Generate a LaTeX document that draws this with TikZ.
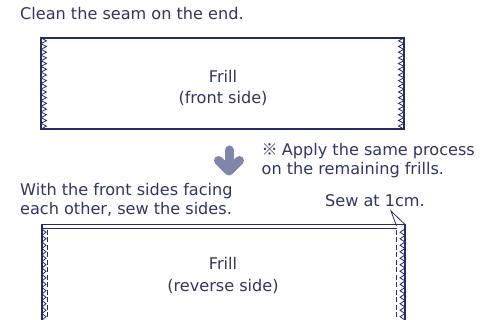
\documentclass[tikz,border=0pt]{standalone}
\usepackage{fontspec}
\setmainfont{DejaVu Sans}
\newfontfamily\cjk{Noto Sans CJK JP}
\definecolor{navy}{RGB}{36,44,104}
\definecolor{txtc}{RGB}{48,54,100}
\definecolor{arrc}{RGB}{128,134,170}
\begin{document}
\begin{tikzpicture}[x=1pt,y=-1pt,
  txt/.style={text=txtc, font=\fontsize{16.1}{19}\selectfont, inner sep=0pt},
  edge/.style={draw=navy, line width=1.3pt},
  zz/.style={draw=navy, line width=0.8pt},
  seam/.style={draw=navy, line width=1pt, dash pattern=on 5pt off 2.5pt},
  bigarrow/.style={draw=arrc, line width=9pt, line cap=round, line join=round}]
\clip (0,0) rectangle (483,320);
\fill[white] (0,0) rectangle (483,320);
% top frill
\draw[edge] (41,38) rectangle (404,129);
\draw[zz] (41,38) \foreach \i in {0,...,15} { -- (46.5,{38+5.6875*\i+2.84}) -- (41,{38+5.6875*(\i+1)}) };
\draw[zz] (404,38) \foreach \i in {0,...,15} { -- (398.5,{38+5.6875*\i+2.84}) -- (404,{38+5.6875*(\i+1)}) };
\node[txt, anchor=base west] (t1) at (20,20) {Clean the seam on the end.};
\node[txt, anchor=base] (f1) at (223,83) {Frill};
\node[txt, anchor=base] (f1b) at (223,104) {(front side)};
% arrow
\draw[bigarrow] (229,150) -- (229,170);
\draw[bigarrow] (218.5,160.5) -- (229,171) -- (239.5,160.5);
\node[txt, anchor=base west] (n1) at (261.5,156) {{\cjk ※}\hspace{-1pt} Apply the same process};
\node[txt, anchor=base west] (n2) at (261.5,175) {on the remaining frills.};
\node[txt, anchor=base west] (w1) at (20,196) {With the front sides facing};
\node[txt, anchor=base west] (w2) at (20,215) {each other, sew the sides.};
\node[txt, anchor=base west] (s) at (325,207) {Sew at 1cm.};
% bottom frill
\draw[edge] (42,330) -- (42,224.5) -- (405,224.5) -- (405,330);
\draw[edge] (42,228.5) -- (397,228.5);
\draw[zz] (42,229) \foreach \i in {0,...,15} { -- (46,{229+6.5*\i+3.25}) -- (42,{229+6.5*(\i+1)}) };
\draw[zz] (405,229) \foreach \i in {0,...,15} { -- (400,{229+6.5*\i+3.25}) -- (405,{229+6.5*(\i+1)}) };
\draw[seam] (47.5,230) -- (47.5,330);
\draw[seam] (396.8,230) -- (396.8,330);
\node[txt, anchor=base] (f2) at (223,270) {Frill};
\node[txt, anchor=base] (f2b) at (223,292) {(reverse side)};
% leader
\coordinate (apex) at (391,211);
\coordinate (c1) at (396.5,226);
\coordinate (c2) at (405,224.5);
\draw[navy, line width=0.8pt] (c1) -- (apex) -- (c2);
\end{tikzpicture}
\end{document}
